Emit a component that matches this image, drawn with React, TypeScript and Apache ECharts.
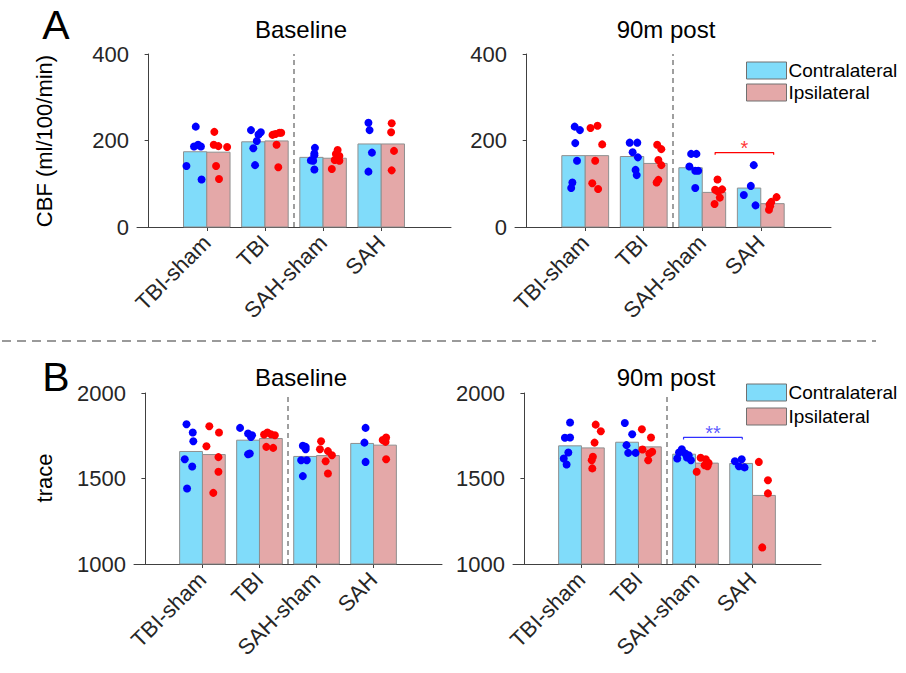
import React, { useEffect, useRef } from "react";
import * as echarts from "echarts";

const FONT = "'Liberation Sans', Arial, Helvetica, sans-serif";

const categories = ["TBI-sham", "TBI", "SAH-sham", "SAH"];
const seriesNames = ["Contralateral", "Ipsilateral"];
const panelTitles = ["Baseline", "90m post"];
const cbfRange = [0, 400, 200];
const traceRange = [1000, 2000, 500];

// bar heights (group means)
const cbfBaselineContra = [174, 197, 161, 192];
const cbfBaselineIpsi = [173, 199, 159, 192];
const cbfPostContra = [165, 163, 137, 90];
const cbfPostIpsi = [165, 147, 80, 54];
const traceBaselineContra = [1658, 1724, 1629, 1705];
const traceBaselineIpsi = [1640, 1734, 1634, 1695];
const tracePostContra = [1691, 1712, 1642, 1588];
const tracePostIpsi = [1679, 1685, 1590, 1401];

// individual animals [jittered x, value]
const cbfBaselineContraDots = [
  [0.81, 232], [0.78, 186], [0.85, 190], [0.9, 186], [0.65, 141], [0.91, 110],
  [1.76, 224], [1.8, 182], [1.86, 199], [1.89, 214], [1.93, 219], [1.83, 143],
  [2.86, 183], [2.85, 170], [2.85, 166], [2.79, 154], [2.83, 153], [2.85, 133],
  [3.78, 241], [3.8, 224], [3.84, 172], [3.78, 128],
];
const cbfBaselineIpsiDots = [
  [1.13, 220], [1.12, 190], [1.2, 187], [1.35, 185], [1.16, 141], [1.21, 111],
  [2.13, 213], [2.18, 215], [2.25, 218], [2.28, 218], [2.2, 190], [2.23, 138],
  [3.25, 178], [3.22, 169], [3.28, 164], [3.2, 155], [3.28, 153], [3.15, 134],
  [4.18, 240], [4.17, 219], [4.22, 176], [4.18, 131],
];
const cbfPostContraDots = [
  [0.82, 232], [0.91, 224], [0.83, 194], [0.86, 153], [0.78, 103], [0.76, 90],
  [1.76, 195], [1.89, 195], [1.81, 173], [1.9, 161], [1.86, 132], [1.88, 120],
  [2.81, 169], [2.9, 169], [2.78, 140], [2.88, 130], [2.93, 130], [2.88, 90],
  [3.88, 143], [3.83, 95], [3.71, 74], [3.91, 50],
];
const cbfPostIpsiDots = [
  [1.09, 229], [1.21, 234], [1.29, 191], [1.17, 153], [1.12, 101], [1.22, 88],
  [2.23, 190], [2.3, 180], [2.25, 155], [2.3, 143], [2.25, 109], [2.22, 103],
  [3.26, 110], [3.22, 86], [3.34, 87], [3.3, 68], [3.21, 53], [3.27, 82],
  [4.27, 69], [4.18, 58], [4.15, 52], [4.16, 48], [4.14, 40],
];
const traceBaselineContraDots = [
  [0.72, 1817], [0.83, 1769], [0.84, 1718], [0.69, 1613], [0.82, 1570], [0.73, 1442],
  [1.66, 1796], [1.8, 1763], [1.87, 1753], [1.85, 1743], [1.83, 1646], [1.8, 1642],
  [2.76, 1691], [2.81, 1685], [2.81, 1671], [2.73, 1607], [2.83, 1607], [2.76, 1514],
  [3.86, 1796], [3.84, 1710], [3.86, 1597],
];
const traceBaselineIpsiDots = [
  [1.12, 1806], [1.29, 1769], [1.07, 1689], [1.28, 1625], [1.28, 1539], [1.19, 1416],
  [2.08, 1757], [2.14, 1769], [2.2, 1759], [2.27, 1753], [2.12, 1685], [2.24, 1679],
  [3.08, 1718], [3.06, 1671], [3.2, 1660], [3.27, 1636], [3.16, 1601], [3.2, 1529],
  [4.22, 1740], [4.16, 1725], [4.21, 1714], [4.22, 1613],
];
const tracePostContraDots = [
  [0.8, 1827], [0.71, 1738], [0.8, 1740], [0.77, 1652], [0.69, 1617], [0.74, 1582],
  [1.76, 1825], [1.89, 1759], [1.79, 1695], [1.82, 1650], [1.95, 1650],
  [2.76, 1671], [2.71, 1652], [2.82, 1646], [2.88, 1636], [2.68, 1617], [2.92, 1607], [2.85, 1623],
  [3.69, 1601], [3.81, 1613], [3.76, 1572], [3.86, 1565],
];
const tracePostIpsiDots = [
  [1.25, 1815], [1.34, 1776], [1.23, 1710], [1.2, 1627], [1.18, 1607], [1.19, 1559],
  [2.06, 1788], [2.22, 1740], [2.07, 1670], [2.24, 1656], [2.19, 1646], [2.17, 1607],
  [3.09, 1621], [3.18, 1613], [3.23, 1591], [3.21, 1572], [3.16, 1578], [3.02, 1539],
  [4.11, 1597], [4.27, 1490], [4.27, 1413], [4.17, 1097],
];

// significance brackets: [xStart, xEnd, level, label]
const cbfPostBracket = [3.22, 4.22, 172, "*"];
const tracePostBracket = [2.79, 3.82, 1740, "**"];

const CONTRA = "#80dcfa";
const IPSI = "#e4a8a8";
const BORDER = "#8f8f8f";
const AXIS = "#404040";
const TICKTXT = "#262626";

const grids = [
  { left: 137, top: 54, width: 314, height: 173 },
  { left: 515, top: 54, width: 316, height: 173 },
  { left: 134, top: 393, width: 308, height: 171 },
  { left: 513, top: 393, width: 308, height: 171 },
];

function barSeries(name: string, values: number[], side: number, color: string, idx: number, yMin: number) {
  return {
    type: "custom",
    name,
    xAxisIndex: idx,
    yAxisIndex: idx,
    data: values.map((v, i) => [i + 1, v]),
    itemStyle: { color },
    encode: { x: 0, y: 1 },
    z: 2,
    silent: true,
    renderItem: (params: any, api: any) => {
      const x = api.value(0);
      const y = api.value(1);
      const x0 = side < 0 ? x - 0.4 : x;
      const tl = api.coord([x0, y]);
      const br = api.coord([x0 + 0.4, yMin]);
      return {
        type: "rect",
        shape: { x: tl[0], y: tl[1], width: br[0] - tl[0], height: br[1] - tl[1] },
        style: { fill: color, stroke: BORDER, lineWidth: 1 },
      };
    },
  };
}

function dotSeries(dots: number[][], color: string, idx: number, withSep: boolean) {
  const s: any = {
    type: "scatter",
    xAxisIndex: idx,
    yAxisIndex: idx,
    data: dots,
    symbolSize: 8,
    itemStyle: { color, opacity: 1 },
    z: 4,
    silent: true,
  };
  if (withSep) {
    s.markLine = {
      silent: true,
      symbol: "none",
      label: { show: false },
      lineStyle: { color: "#808080", type: [5, 4], width: 1.5 },
      data: [{ xAxis: 2.5 }],
    };
  }
  return s;
}

function bracketSeries(b: any[], color: string, idx: number, tick: number) {
  const [x0, x1, lvl, label] = b;
  return [
    {
      type: "line",
      xAxisIndex: idx,
      yAxisIndex: idx,
      data: [[x0, lvl - tick], [x0, lvl], [x1, lvl], [x1, lvl - tick]],
      showSymbol: false,
      symbol: "none",
      lineStyle: { color, width: 1.2 },
      z: 5,
      silent: true,
    },
    {
      type: "scatter",
      xAxisIndex: idx,
      yAxisIndex: idx,
      data: [[(x0 + x1) / 2, lvl]],
      symbolSize: 1,
      itemStyle: { color: "rgba(0,0,0,0)" },
      label: {
        show: true,
        position: "top",
        distance: -6,
        formatter: label,
        color,
        fontSize: 20,
        fontFamily: FONT,
      },
      z: 5,
      silent: true,
    },
  ];
}

function xAxis(idx: number) {
  return {
    type: "value",
    gridIndex: idx,
    min: -0.2,
    max: 5.2,
    axisLine: { show: true, lineStyle: { color: AXIS, width: 1 } },
    axisTick: { show: true, customValues: [1, 2, 3, 4], length: 4, lineStyle: { color: AXIS } },
    axisLabel: {
      show: true,
      customValues: [1, 2, 3, 4],
      formatter: (v: number) => categories[Math.round(v) - 1] || "",
      rotate: 45,
      fontSize: 22,
      color: TICKTXT,
      fontFamily: FONT,
      margin: 12,
    },
    splitLine: { show: false },
  };
}

function yAxis(idx: number, r: number[]) {
  return {
    type: "value",
    gridIndex: idx,
    min: r[0],
    max: r[1],
    interval: r[2],
    axisLine: { show: true, lineStyle: { color: AXIS, width: 1 } },
    axisTick: { show: true, length: 4, lineStyle: { color: AXIS } },
    axisLabel: {
      fontSize: 22,
      color: TICKTXT,
      fontFamily: FONT,
      margin: 8,
      formatter: (v: number) => String(v),
    },
    splitLine: { show: false },
  };
}

function legend(top: number, gap: number) {
  return {
    orient: "vertical",
    left: 746,
    top,
    padding: 0,
    itemWidth: 40,
    itemHeight: 17,
    itemGap: gap,
    selectedMode: false,
    textStyle: { fontSize: 19, color: "#000", fontFamily: FONT, lineHeight: 18, padding: [0, 0, 0, -3] },
    data: [
      { name: seriesNames[0], icon: "rect", itemStyle: { color: CONTRA, borderColor: "#707070", borderWidth: 1 } },
      { name: seriesNames[1], icon: "rect", itemStyle: { color: IPSI, borderColor: "#707070", borderWidth: 1 } },
    ],
  };
}

function text(str: string, x: number, y: number, size: number, extra: any = {}) {
  return {
    type: "text",
    x,
    y,
    silent: true,
    style: {
      text: str,
      fontSize: size,
      fontFamily: FONT,
      fill: "#000",
      align: "center",
      verticalAlign: "middle",
    },
    ...extra,
  };
}

export default function App() {
  const ref = useRef<HTMLDivElement>(null);
  useEffect(() => {
    if (!ref.current) return;
    const chart = echarts.init(ref.current, null, { renderer: "svg" });
    const option: any = {
      animation: false,
      backgroundColor: "#fff",
      textStyle: { fontFamily: FONT },
      grid: grids,
      xAxis: [xAxis(0), xAxis(1), xAxis(2), xAxis(3)],
      yAxis: [yAxis(0, cbfRange), yAxis(1, cbfRange), yAxis(2, traceRange), yAxis(3, traceRange)],
      legend: [legend(61, 3), legend(383, 5)],
      series: [
        barSeries(seriesNames[0], cbfBaselineContra, -1, CONTRA, 0, cbfRange[0]),
        barSeries(seriesNames[1], cbfBaselineIpsi, 1, IPSI, 0, cbfRange[0]),
        dotSeries(cbfBaselineContraDots, "#0000ff", 0, true),
        dotSeries(cbfBaselineIpsiDots, "#ff0000", 0, false),
        barSeries(seriesNames[0], cbfPostContra, -1, CONTRA, 1, cbfRange[0]),
        barSeries(seriesNames[1], cbfPostIpsi, 1, IPSI, 1, cbfRange[0]),
        dotSeries(cbfPostContraDots, "#0000ff", 1, true),
        dotSeries(cbfPostIpsiDots, "#ff0000", 1, false),
        ...bracketSeries(cbfPostBracket, "#ff0000", 1, 5),
        barSeries(seriesNames[0], traceBaselineContra, -1, CONTRA, 2, traceRange[0]),
        barSeries(seriesNames[1], traceBaselineIpsi, 1, IPSI, 2, traceRange[0]),
        dotSeries(traceBaselineContraDots, "#0000ff", 2, true),
        dotSeries(traceBaselineIpsiDots, "#ff0000", 2, false),
        barSeries(seriesNames[0], tracePostContra, -1, CONTRA, 3, traceRange[0]),
        barSeries(seriesNames[1], tracePostIpsi, 1, IPSI, 3, traceRange[0]),
        dotSeries(tracePostContraDots, "#0000ff", 3, true),
        dotSeries(tracePostIpsiDots, "#ff0000", 3, false),
        ...bracketSeries(tracePostBracket, "#3030ff", 3, 12),
      ],
      graphic: [
        text("A", 56, 25, 41),
        text("B", 56, 377, 41),
        text(panelTitles[0], 301, 29, 24),
        text(panelTitles[1], 666, 29, 24),
        text(panelTitles[0], 301, 377, 24),
        text(panelTitles[1], 666, 377, 24),
        text("CBF (ml/100/min)", 44, 141, 22, { rotation: Math.PI / 2 }),
        text("trace", 44, 478, 22, { rotation: Math.PI / 2 }),
        {
          type: "line",
          silent: true,
          shape: { x1: 2, y1: 341, x2: 876, y2: 341 },
          style: { stroke: "#7a7a7a", lineWidth: 1.5, lineDash: [9, 6] },
        },
      ],
    };
    chart.setOption(option);
    return () => chart.dispose();
  }, []);
  return (
    <div
      ref={ref}
      style={{ position: "fixed", left: 0, top: 0, width: 906, height: 673, background: "#fff" }}
    />
  );
}
